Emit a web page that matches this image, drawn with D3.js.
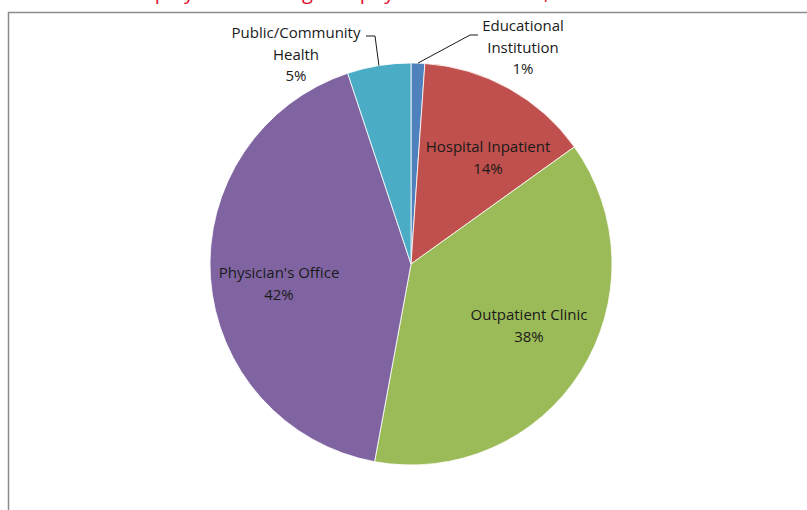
<!DOCTYPE html>
<html>
<head>
<meta charset="utf-8">
<script src="https://cdn.jsdelivr.net/npm/d3@7"></script>
<style>
  body { margin: 0; background: #fff; }
  svg text { font-family: "Open Sans", "Noto Sans", sans-serif; }
</style>
</head>
<body>
<svg id="chart" width="807" height="510"></svg>
<script>
// data, clockwise from 12 o'clock
const categories = ["Educational Institution", "Hospital Inpatient", "Outpatient Clinic", "Physician's Office", "Public/Community Health"];
const shares = [1.1, 14.0, 37.8, 42.0, 5.1];
const pctLabels = ["1%", "14%", "38%", "42%", "5%"];
const labelLines = [
  ["Educational", "Institution"],
  ["Hospital Inpatient"],
  ["Outpatient Clinic"],
  ["Physician's Office"],
  ["Public/Community", "Health"]
];
const colors = ["#4F81BD", "#C0504D", "#9BBB59", "#8064A2", "#4BACC6"];
const titleText = "Employment Settings for physician assistants, 2013";

const svg = d3.select("#chart");
const cx = 411, cy = 264, radius = 201;

// title, cut off at the top of the crop (only descenders show)
svg.append("text")
  .attr("x", 125)
  .attr("y", -1)
  .attr("fill", "#E0102A")
  .style("font-size", "20px")
  .text(titleText);

// chart area border (left + top visible)
svg.append("rect")
  .attr("x", 8.5).attr("y", 12.5)
  .attr("width", 830).attr("height", 530)
  .attr("fill", "none")
  .attr("stroke", "#8c8c8c")
  .attr("stroke-width", 1.5);

const pie = d3.pie().sort(null).value(d => d.value);
const arcs = pie(categories.map((c, i) => ({ name: c, value: shares[i], idx: i })));
const arc = d3.arc().innerRadius(0).outerRadius(radius);

const g = svg.append("g").attr("transform", `translate(${cx},${cy})`);

g.selectAll("path.slice")
  .data(arcs)
  .enter().append("path")
  .attr("class", "slice")
  .attr("d", arc)
  .attr("fill", d => colors[d.data.idx])
  .attr("stroke", "#fff")
  .attr("stroke-width", 0.8);

// label positions (relative to centre, first baseline)
const labelPos = [
  { x: 112, y: -233 },
  { x: 77, y: -112 },
  { x: 118, y: 56 },
  { x: -132, y: 14 },
  { x: -115, y: -226 }
];
const lineH = 21.5;

arcs.forEach((d, i) => {
  const lines = labelLines[i].concat([pctLabels[i]]);
  const p = labelPos[i];
  const t = g.append("text")
    .attr("text-anchor", "middle")
    .attr("fill", "#1a1a1a")
    .style("font-size", "15px");
  lines.forEach((ln, k) => {
    t.append("tspan")
      .attr("x", p.x)
      .attr("y", p.y + k * lineH)
      .text(ln);
  });
});

// leader lines for the two small slices
const leader = d3.line();
const eduMid = (arcs[0].startAngle + arcs[0].endAngle) / 2;
const pubMid = (arcs[4].startAngle + arcs[4].endAngle) / 2;
const edge = a => [Math.sin(a) * radius, -Math.cos(a) * radius];

g.append("path")
  .attr("d", leader([edge(eduMid), [59, -229], [67, -229]]))
  .attr("fill", "none").attr("stroke", "#1a1a1a").attr("stroke-width", 1);

g.append("path")
  .attr("d", leader([[-45, -228], [-36, -228], edge(pubMid)]))
  .attr("fill", "none").attr("stroke", "#1a1a1a").attr("stroke-width", 1);
</script>
</body>
</html>
